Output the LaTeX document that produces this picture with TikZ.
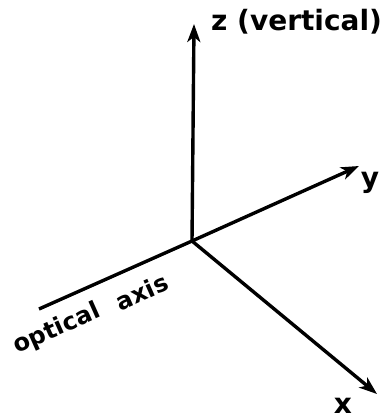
\documentclass[tikz,border=0pt]{standalone}
\usepackage{fontspec}
\setmainfont{DejaVu Sans}
\usetikzlibrary{arrows.meta}
\begin{document}
\begin{tikzpicture}[x=1pt,y=-1pt,
  axis/.style={line width=3.4pt,-{Stealth[length=18pt,width=13pt,inset=5pt]}},
  lbl/.style={font=\fontsize{28}{30}\selectfont\bfseries,inner sep=0pt},
  olbl/.style={font=\fontsize{24}{26}\selectfont\bfseries,inner sep=0pt,rotate=24}]
\useasboundingbox (0,0) rectangle (382,419);
\coordinate (O) at (192,241);
\coordinate (Z) at (194,24);
\coordinate (Y) at (359,166);
\coordinate (X) at (377,394);
\coordinate (A) at (39,309);
\draw[axis] (O) -- (Z);
\draw[axis] (O) -- (Y);
\draw[axis] (O) -- (X);
\draw[line width=3.4pt] (O) -- (A);
\node[lbl,anchor=west] (zl) at (211,22) {z (vertical)};
\node[lbl] (yl) at (370,183) {y};
\node[lbl] (xl) at (343,406) {x};
\node[olbl] (ol1) at (57,329) {optical};
\node[olbl] (ol2) at (142,292) {axis};
\end{tikzpicture}
\end{document}
